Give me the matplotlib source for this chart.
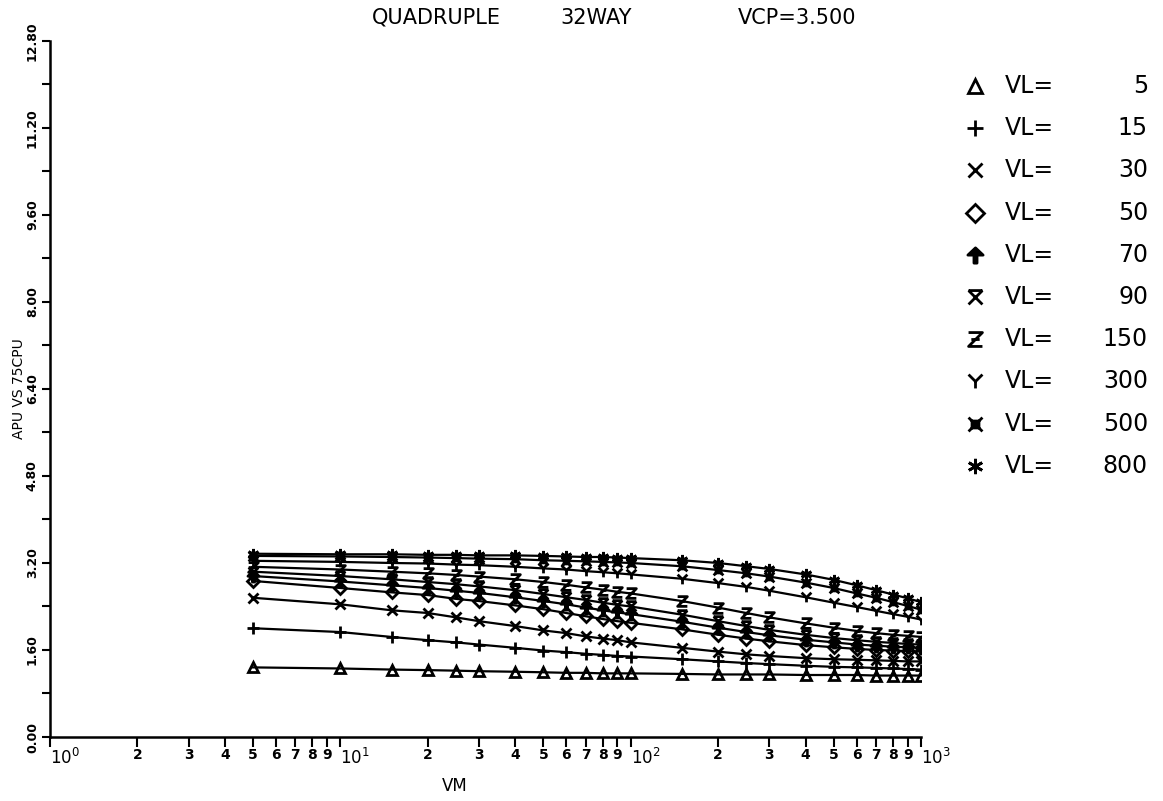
import numpy as np
import matplotlib as mpl
mpl.use('Agg')
import matplotlib.pyplot as plt
from matplotlib.path import Path

plt.rcParams['font.family'] = ['DejaVu Sans']

# VM values (x axis, log scale)
vm = [5, 10, 15, 20, 25, 30, 40, 50, 60, 70, 80, 90, 100,
      150, 200, 250, 300, 400, 500, 600, 700, 800, 900, 1000]

vl_values = [5, 15, 30, 50, 70, 90, 150, 300, 500, 800]

apu_vl5 = [1.28, 1.26, 1.24, 1.23, 1.22, 1.21, 1.20, 1.19, 1.18, 1.18, 1.17, 1.17, 1.17,
           1.16, 1.15, 1.15, 1.15, 1.14, 1.14, 1.14, 1.13, 1.13, 1.13, 1.13]
apu_vl15 = [2.00, 1.93, 1.84, 1.78, 1.74, 1.70, 1.64, 1.59, 1.56, 1.53, 1.51, 1.49, 1.48,
            1.43, 1.39, 1.36, 1.34, 1.31, 1.29, 1.28, 1.27, 1.26, 1.25, 1.24]
apu_vl30 = [2.56, 2.44, 2.33, 2.28, 2.20, 2.13, 2.04, 1.96, 1.91, 1.85, 1.81, 1.78, 1.74,
            1.64, 1.57, 1.52, 1.49, 1.45, 1.43, 1.42, 1.41, 1.40, 1.39, 1.39]
apu_vl50 = [2.87, 2.74, 2.66, 2.61, 2.54, 2.50, 2.42, 2.35, 2.28, 2.22, 2.17, 2.13, 2.10,
            1.98, 1.88, 1.81, 1.76, 1.69, 1.65, 1.62, 1.60, 1.59, 1.58, 1.57]
apu_vl70 = [2.96, 2.86, 2.79, 2.74, 2.69, 2.65, 2.57, 2.50, 2.44, 2.38, 2.33, 2.29, 2.26,
            2.12, 2.01, 1.93, 1.87, 1.79, 1.74, 1.70, 1.68, 1.66, 1.65, 1.64]
apu_vl90 = [3.04, 2.96, 2.90, 2.85, 2.81, 2.77, 2.70, 2.63, 2.57, 2.52, 2.47, 2.43, 2.40,
            2.25, 2.13, 2.04, 1.97, 1.88, 1.82, 1.78, 1.75, 1.73, 1.71, 1.70]
apu_vl150 = [3.13, 3.08, 3.04, 3.01, 2.98, 2.95, 2.90, 2.85, 2.80, 2.75, 2.71, 2.67, 2.64,
             2.50, 2.38, 2.28, 2.20, 2.09, 2.01, 1.95, 1.91, 1.88, 1.86, 1.84]
apu_vl300 = [3.24, 3.22, 3.20, 3.19, 3.17, 3.16, 3.13, 3.10, 3.08, 3.05, 3.03, 3.01, 2.99,
             2.91, 2.83, 2.76, 2.69, 2.57, 2.47, 2.39, 2.32, 2.26, 2.21, 2.16]
apu_vl500 = [3.33, 3.32, 3.31, 3.30, 3.29, 3.28, 3.27, 3.25, 3.24, 3.23, 3.22, 3.21, 3.20,
             3.14, 3.07, 3.01, 2.95, 2.84, 2.74, 2.64, 2.56, 2.48, 2.41, 2.34]
apu_vl800 = [3.37, 3.36, 3.36, 3.35, 3.35, 3.34, 3.34, 3.33, 3.32, 3.31, 3.31, 3.30, 3.29,
             3.25, 3.20, 3.14, 3.09, 2.99, 2.89, 2.79, 2.70, 2.62, 2.55, 2.48]

series = [apu_vl5, apu_vl15, apu_vl30, apu_vl50, apu_vl70,
          apu_vl90, apu_vl150, apu_vl300, apu_vl500, apu_vl800]

M, L, C = Path.MOVETO, Path.LINETO, Path.CLOSEPOLY

def seg_path(segs):
    verts, codes = [], []
    for s in segs:
        for k, p in enumerate(s):
            verts.append(p)
            codes.append(M if k == 0 else L)
    return Path(verts, codes)

arrow_up = Path([(-1, 0.05), (0, 1), (1, 0.05), (0.2, 0.05), (0.2, -1),
                 (-0.2, -1), (-0.2, 0.05), (-1, 0.05)],
                [M, L, L, L, L, L, L, C])
x_bar = seg_path([[(-1, 1), (1, 1)], [(-1, 1), (1, -1)], [(1, 1), (-1, -1)]])
z_bar = seg_path([[(-1, 1), (1, 1), (-1, -1), (1, -1)], [(-0.6, 0), (0.6, 0)]])
y_mark = seg_path([[(-1, 1), (0, 0), (1, 1)], [(0, 0), (0, -1)]])
box_x = seg_path([[(-1, 1), (1, -1)], [(1, 1), (-1, -1)],
                  [(-0.5, -0.5), (0.5, -0.5), (0.5, 0.5), (-0.5, 0.5), (-0.5, -0.5)]])

# (marker, size, filled)
styles = [('^', 7, False), ('+', 8, False), ('x', 7, False), ('D', 6, False),
          (arrow_up, 8, True), (x_bar, 7, False), (z_bar, 7, False),
          (y_mark, 7, False), (box_x, 7, False), ((6, 2, 0), 8, False)]

fig = plt.figure(figsize=(11.63, 8.01), dpi=100)
ax = fig.add_axes([0.043, 0.0799, 0.749, 0.869])

for vals, (mk, ms, filled) in zip(series, styles):
    ax.plot(vm, vals, color='k', lw=1.6, marker=mk, ms=ms, mew=2,
            mfc='k' if filled else 'none', mec='k')

ax.set_xscale('log')
ax.set_xlim(1, 1000)
ax.set_ylim(0, 12.8)
for s in ['top', 'right']:
    ax.spines[s].set_visible(False)
ax.spines['left'].set_linewidth(1.8)
ax.spines['bottom'].set_linewidth(1.8)

yt = np.arange(0, 12.81, 1.6)
ax.set_yticks(yt)
ax.set_yticklabels([f"{v:.2f}" for v in yt], rotation=90, va='center', fontsize=9,
                   fontweight='bold')
ax.set_yticks(yt[:-1] + 0.8, minor=True)

ax.set_xticks([1, 10, 100, 1000])
ax.set_xticklabels([r'$10^0$', r'$10^1$', r'$10^2$', r'$10^3$'], fontsize=12, ha='left')
minor_x = [d * 10 ** e for e in range(3) for d in range(2, 10)]
ax.set_xticks(minor_x, minor=True)
ax.set_xticklabels([str(int(v / 10 ** int(np.log10(v)))) for v in minor_x], minor=True,
                   fontsize=10, fontweight='bold')
ax.tick_params(which='both', direction='out', length=6, width=1.5, pad=2)
ax.tick_params(axis='x', which='both', length=7, pad=1)

ax.set_xlabel('VM', fontsize=12)
ax.xaxis.set_label_coords((455 - 50) / 871, -0.058)
ax.set_ylabel('APU VS 75CPU', fontsize=10)
ax.yaxis.set_label_coords(-0.028, 0.5)

ty = (801 - 18) / 801
fig.text(372 / 1163, ty, 'QUADRUPLE', fontsize=15, va='center')
fig.text(560 / 1163, ty, '32WAY', fontsize=15, va='center')
fig.text(738 / 1163, ty, 'VCP=3.500', fontsize=15, va='center')

# legend block
lax = fig.add_axes([960 / 1163, (801 - 487) / 801, 200 / 1163, 422 / 801])
lax.set_xlim(0, 200)
lax.set_ylim(9.5, -0.5)
lax.axis('off')
for i, (vl, (mk, ms, filled)) in enumerate(zip(vl_values, styles)):
    lax.plot(15, i, marker=mk, ms=ms + 3, mew=2, color='k',
             mfc='k' if filled else 'none', mec='k', ls='none')
    lax.text(45, i, 'VL=', fontsize=17, va='center')
    lax.text(188, i, str(vl), fontsize=17, va='center', ha='right')

fig.savefig('out.png', dpi=100)
